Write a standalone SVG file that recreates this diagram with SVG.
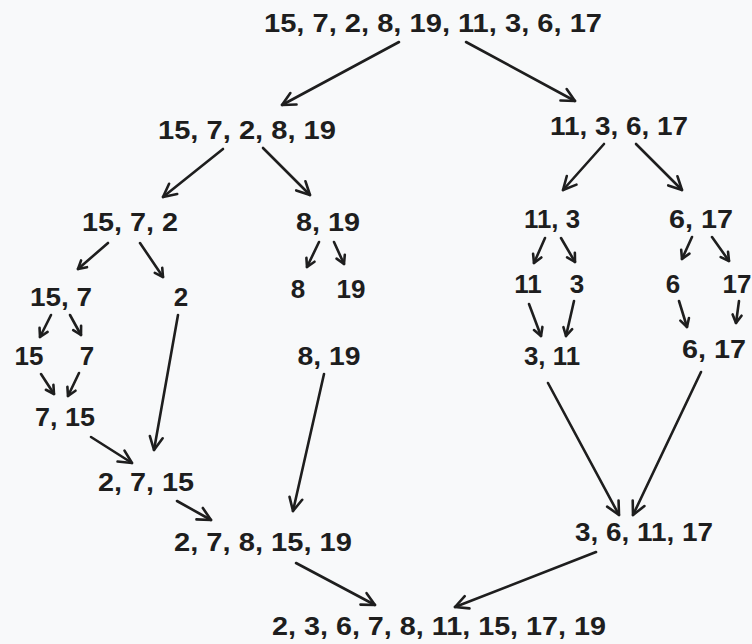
<svg xmlns="http://www.w3.org/2000/svg" width="752" height="644" viewBox="0 0 752 644">
<defs>
<style>
text{font-family:"Liberation Sans",Arial,sans-serif;font-size:26px;font-weight:700;fill:#1e1e1e;text-anchor:middle}
.c line{stroke:#1e1e1e;stroke-width:2.6;stroke-linecap:round;fill:none}
.c line.b{marker-end:url(#ab)}
.c line.s{marker-end:url(#as)}
</style>
<marker id="ab" markerUnits="userSpaceOnUse" markerWidth="24" markerHeight="24" viewBox="-18 -12 24 24" refX="0" refY="0" orient="auto">
<path d="M-13,-6.5 L0,0 L-13,6.5" fill="none" stroke="#1e1e1e" stroke-width="2.6" stroke-linecap="round" stroke-linejoin="round"/>
</marker>
<marker id="as" markerUnits="userSpaceOnUse" markerWidth="16" markerHeight="16" viewBox="-12 -8 16 16" refX="0" refY="0" orient="auto">
<path d="M-8,-4.5 L0,0 L-8,4.5" fill="none" stroke="#1e1e1e" stroke-width="2.6" stroke-linecap="round" stroke-linejoin="round"/>
</marker>
</defs>
<rect width="752" height="644" fill="#f8f9fa"/>
<g id="n-root"><text x="433" y="32" textLength="338" lengthAdjust="spacingAndGlyphs">15, 7, 2, 8, 19, 11, 3, 6, 17</text></g>
<g id="n-L"><text x="247" y="139" textLength="178" lengthAdjust="spacingAndGlyphs">15, 7, 2, 8, 19</text></g>
<g id="n-R"><text x="619" y="135" textLength="138" lengthAdjust="spacingAndGlyphs">11, 3, 6, 17</text></g>
<g id="n-LL"><text x="130" y="231" textLength="96" lengthAdjust="spacingAndGlyphs">15, 7, 2</text></g>
<g id="n-LR"><text x="328" y="231" textLength="64" lengthAdjust="spacingAndGlyphs">8, 19</text></g>
<g id="n-RL"><text x="552" y="228" textLength="56" lengthAdjust="spacingAndGlyphs">11, 3</text></g>
<g id="n-RR"><text x="701" y="228" textLength="64" lengthAdjust="spacingAndGlyphs">6, 17</text></g>
<g id="n-LLL"><text x="61" y="306" textLength="62" lengthAdjust="spacingAndGlyphs">15, 7</text></g>
<g id="n-LLR"><text x="181" y="306">2</text></g>
<g id="n-8"><text x="298" y="298">8</text></g>
<g id="n-19"><text x="351" y="298">19</text></g>
<g id="n-11"><text x="528" y="293">11</text></g>
<g id="n-3"><text x="577" y="293">3</text></g>
<g id="n-6"><text x="673" y="293">6</text></g>
<g id="n-17"><text x="737" y="293">17</text></g>
<g id="n-15"><text x="29" y="365">15</text></g>
<g id="n-7"><text x="87" y="365">7</text></g>
<g id="n-m819"><text x="329" y="365" textLength="63" lengthAdjust="spacingAndGlyphs">8, 19</text></g>
<g id="n-m311"><text x="552" y="365" textLength="56" lengthAdjust="spacingAndGlyphs">3, 11</text></g>
<g id="n-m617"><text x="714" y="358" textLength="64" lengthAdjust="spacingAndGlyphs">6, 17</text></g>
<g id="n-m715"><text x="65" y="426" textLength="60" lengthAdjust="spacingAndGlyphs">7, 15</text></g>
<g id="n-m2715"><text x="146" y="491" textLength="96" lengthAdjust="spacingAndGlyphs">2, 7, 15</text></g>
<g id="n-mL"><text x="263" y="551" textLength="178" lengthAdjust="spacingAndGlyphs">2, 7, 8, 15, 19</text></g>
<g id="n-mR"><text x="644" y="541" textLength="138" lengthAdjust="spacingAndGlyphs">3, 6, 11, 17</text></g>
<g id="n-final"><text x="439" y="635" textLength="334" lengthAdjust="spacingAndGlyphs">2, 3, 6, 7, 8, 11, 15, 17, 19</text></g>
<g id="connectors" class="c">
<line class="b" x1="399" y1="42" x2="282" y2="105"/>
<line class="b" x1="466" y1="42" x2="575" y2="101"/>
<line class="b" x1="223" y1="149" x2="163" y2="197"/>
<line class="b" x1="263" y1="148" x2="310" y2="195"/>
<line class="b" x1="604" y1="144" x2="563" y2="190"/>
<line class="b" x1="636" y1="144" x2="682" y2="190"/>
<line class="s" x1="108" y1="243" x2="78" y2="269"/>
<line class="s" x1="140" y1="243" x2="163" y2="277"/>
<line class="s" x1="319" y1="242" x2="307" y2="267"/>
<line class="s" x1="334" y1="242" x2="344" y2="264"/>
<line class="s" x1="51" y1="315" x2="40" y2="337"/>
<line class="s" x1="70" y1="315" x2="81" y2="335"/>
<line class="s" x1="41" y1="374" x2="54" y2="394"/>
<line class="s" x1="79" y1="373" x2="68" y2="396"/>
<line class="b" x1="178" y1="315" x2="154" y2="450"/>
<line class="b" x1="324" y1="374" x2="293" y2="511"/>
<line class="b" x1="91" y1="437" x2="132" y2="463"/>
<line class="b" x1="177" y1="501" x2="211" y2="520"/>
<line class="b" x1="296" y1="563" x2="375" y2="605"/>
<line class="s" x1="545" y1="238" x2="534" y2="263"/>
<line class="s" x1="561" y1="238" x2="575" y2="262"/>
<line class="s" x1="692" y1="237" x2="682" y2="259"/>
<line class="s" x1="712" y1="237" x2="729" y2="261"/>
<line class="s" x1="529" y1="304" x2="541" y2="336"/>
<line class="s" x1="574" y1="301" x2="566" y2="336"/>
<line class="s" x1="679" y1="301" x2="687" y2="327"/>
<line class="s" x1="739" y1="301" x2="736" y2="323"/>
<line class="b" x1="548" y1="383" x2="619" y2="515"/>
<line class="b" x1="701" y1="372" x2="633" y2="515"/>
<line class="b" x1="596" y1="552" x2="455" y2="607"/>
</g>
</svg>
